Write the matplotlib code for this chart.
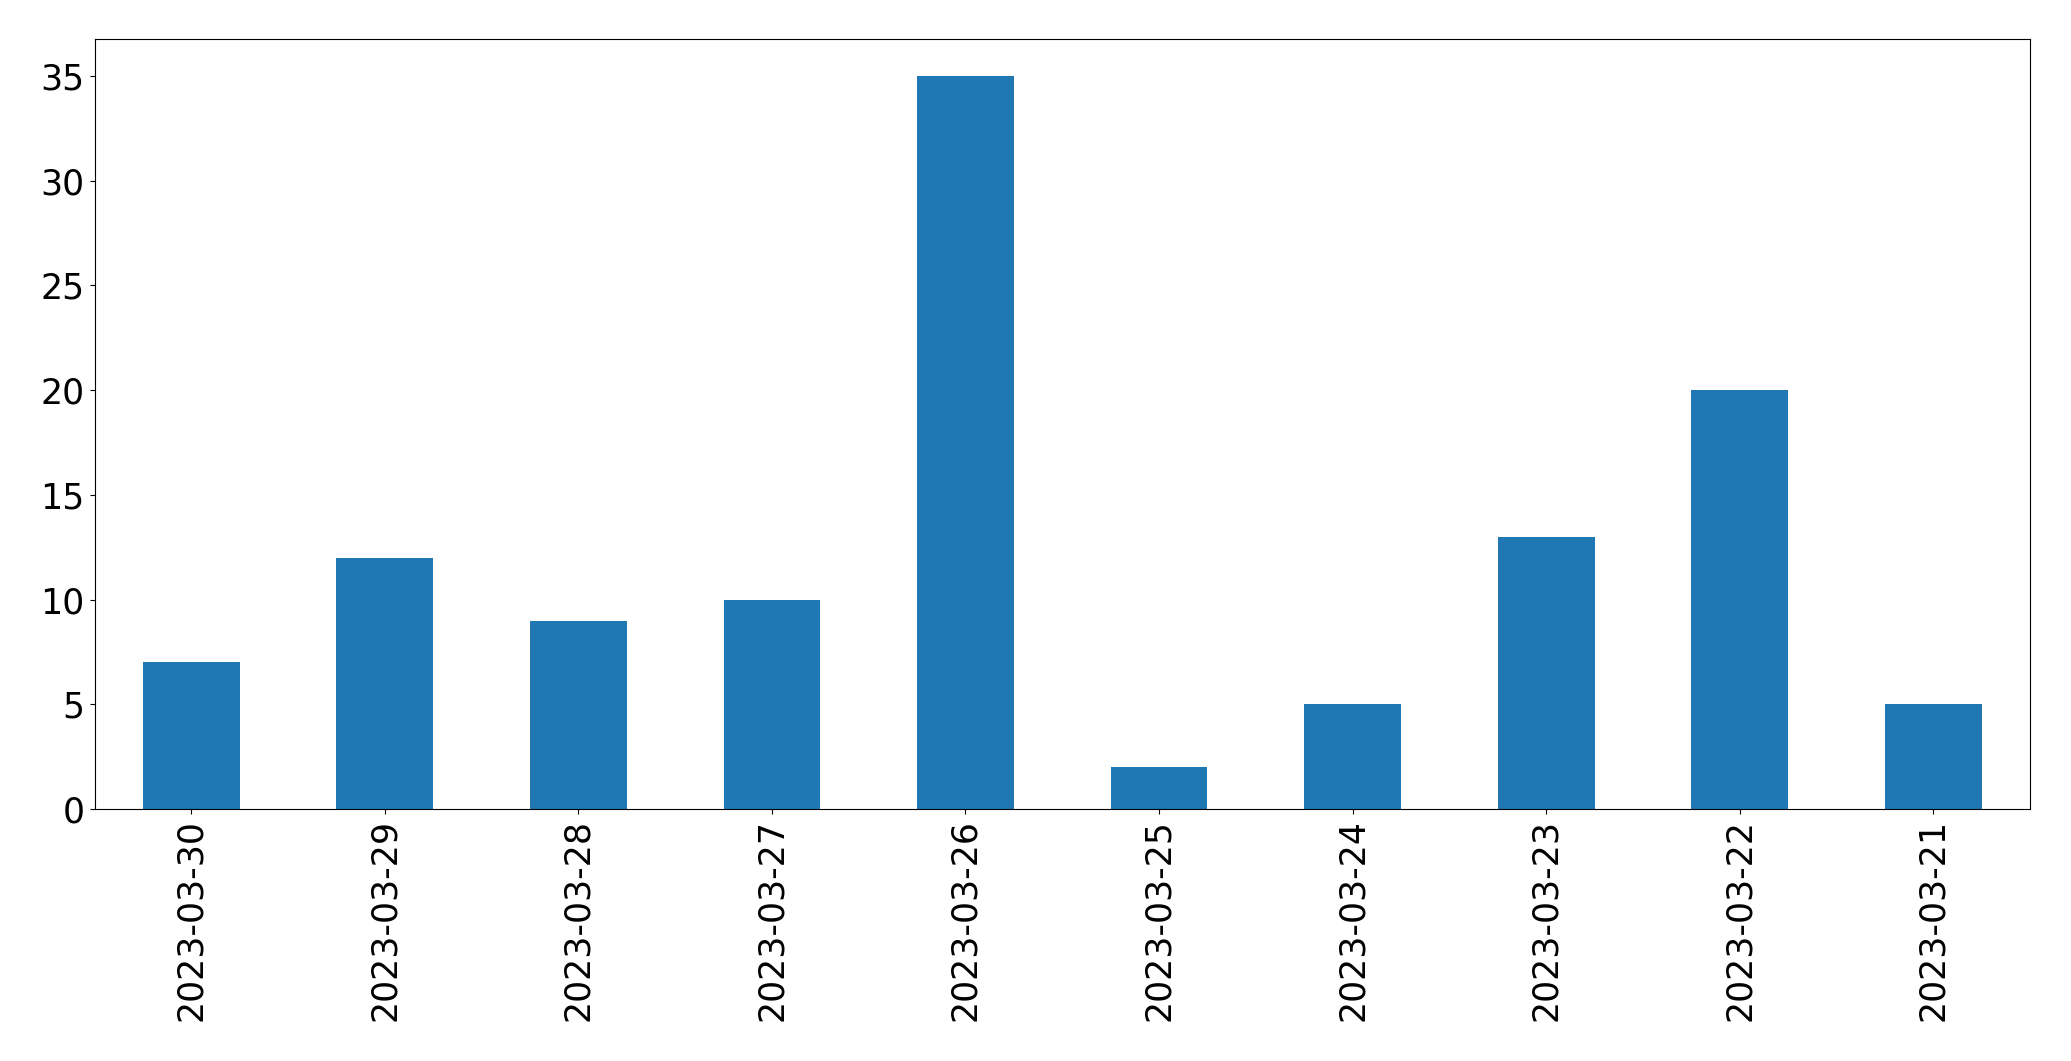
import matplotlib
matplotlib.use("Agg")
import matplotlib.pyplot as plt

dates = ["2023-03-30", "2023-03-29", "2023-03-28", "2023-03-27", "2023-03-26",
         "2023-03-25", "2023-03-24", "2023-03-23", "2023-03-22", "2023-03-21"]
counts = [7, 12, 9, 10, 35, 2, 5, 13, 20, 5]

fig = plt.figure(figsize=(20.71, 10.61), dpi=100)
ax = fig.add_axes([94.5/2071, 1 - 809/1061, (2030 - 94.5)/2071, (809 - 39.4)/1061])
x = list(range(len(dates)))
ax.bar(x, counts, width=0.5, color="#1f77b4")
ax.set_xlim(-0.5, len(dates) - 0.5)
ax.set_ylim(0, max(counts) * 1.05)
ax.set_xticks(x)
ax.set_xticklabels(dates, rotation=90)
ax.tick_params(labelsize=25)
fig.savefig("out.png", dpi=100)
